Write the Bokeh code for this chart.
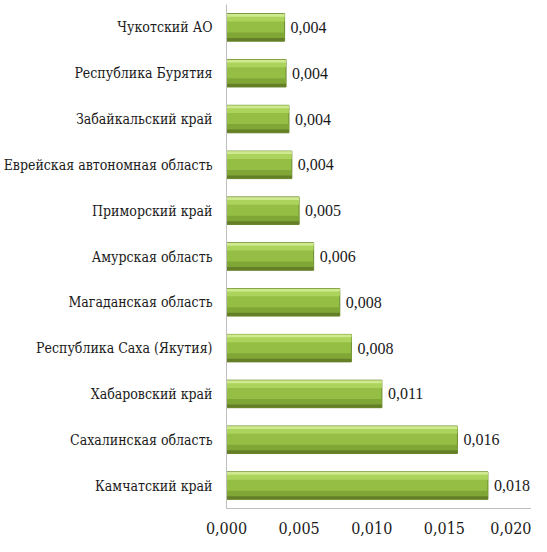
from bokeh.plotting import figure
from bokeh.models import ColumnDataSource, FactorRange, FixedTicker, CustomJSTickFormatter, LabelSet
from bokeh.transform import dodge
from bokeh.embed import file_html
from bokeh.resources import INLINE

# Data (top to bottom as in the picture)
regions = ["Чукотский АО", "Республика Бурятия", "Забайкальский край",
           "Еврейская автономная область", "Приморский край", "Амурская область",
           "Магаданская область", "Республика Саха (Якутия)", "Хабаровский край",
           "Сахалинская область", "Камчатский край"]
values = [0.0040, 0.0041, 0.0043, 0.0045, 0.0050, 0.0060,
          0.0078, 0.0086, 0.0107, 0.0159, 0.0180]
value_labels = ["0,004", "0,004", "0,004", "0,004", "0,005", "0,006",
                "0,008", "0,008", "0,011", "0,016", "0,018"]
x_ticks = [0.0, 0.005, 0.010, 0.015, 0.020]

FONT = "DejaVu Serif Condensed"

src = ColumnDataSource(dict(region=regions, val=values, lab=value_labels))

p = figure(width=531, height=536, output_backend="svg", toolbar_location=None,
           y_range=FactorRange(*reversed(regions)), x_range=(0, 0.0210),
           min_border_left=222, min_border_right=0, min_border_top=4, min_border_bottom=0)
p.outline_line_color = None
p.grid.grid_line_color = None

# base bar
p.hbar(y="region", left=0, right="val", height=0.6, source=src,
       fill_color="#94bf44", line_color="#6b8a2c", line_width=1)
# top highlight
p.hbar(y=dodge("region", 0.21, range=p.y_range), left=0, right="val", height=0.16, source=src,
       fill_color="#acd35c", line_color=None)
p.hbar(y=dodge("region", 0.265, range=p.y_range), left=0, right="val", height=0.06, source=src,
       fill_color="#cfe98f", line_color=None)
# bottom shade
p.hbar(y=dodge("region", -0.2, range=p.y_range), left=0, right="val", height=0.18, source=src,
       fill_color="#80a736", line_color=None)
p.hbar(y=dodge("region", -0.265, range=p.y_range), left=0, right="val", height=0.07, source=src,
       fill_color="#647f28", line_color=None)

# value labels
labels = LabelSet(x="val", y="region", text="lab", source=src, x_offset=6,
                  text_font=FONT, text_font_size="16px", text_color="#1a1a1a",
                  text_baseline="middle", text_align="left")
p.add_layout(labels)

# axes
p.xaxis.ticker = FixedTicker(ticks=x_ticks)
p.xaxis.formatter = CustomJSTickFormatter(code="return tick.toFixed(3).replace('.', ',');")
p.xaxis.major_tick_line_color = None
p.xaxis.minor_tick_line_color = None
p.xaxis.axis_line_color = "#bfbfbf"
p.xaxis.major_label_text_font = FONT
p.xaxis.major_label_text_font_size = "16px"
p.xaxis.major_label_text_color = "#1a1a1a"
p.xaxis.major_label_standoff = 7

p.yaxis.major_tick_line_color = None
p.yaxis.minor_tick_line_color = None
p.yaxis.axis_line_color = "#bfbfbf"
p.yaxis.major_label_text_font = FONT
p.yaxis.major_label_text_font_size = "14px"
p.yaxis.major_label_text_color = "#1a1a1a"
p.yaxis.major_label_standoff = 8

open("out.html", "w").write(file_html(p, INLINE))
